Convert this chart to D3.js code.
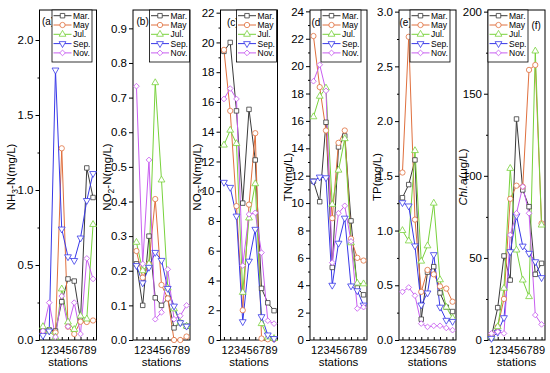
<!DOCTYPE html>
<html>
<head>
<meta charset="utf-8">
<script src="https://cdn.jsdelivr.net/npm/d3@7/dist/d3.min.js"></script>
<style>
  body { margin: 0; background: #fff; }
  svg { display: block; font-family: "Liberation Sans", Arial, sans-serif; }
</style>
</head>
<body>
<div id="chart"></div>
<script>
// =================================== DATA ===================================

const stations = [1, 2, 3, 4, 5, 6, 7, 8, 9]
const months = ["Mar.", "May", "Jul.", "Sep.", "Nov."]

// one row per month (Mar., May, Jul., Sep., Nov.), one value per station
const nh3 = [
  [0.06, 0.067, 0.06, 0.255, 0.407, 0.393, 0.133, 1.147, 0.95],
  [0.05, 0.06, 0.05, 1.278, 0.089, 0.04, 0.122, 0.12, 0.13],
  [0.089, 0.06, 0.02, 0.34, 0.12, 0.07, 0.16, 0.14, 0.77],
  [0.03, 0.06, 1.8, 0.74, 0.555, 0.53, 0.68, 0.93, 1.11],
  [0.06, 0.249, 0.02, 0.293, 0.09, 0.249, 0.04, 0.544, 0.407]
]
const no2 = [
  [0.22, 0.10, 0.30, 0.122, 0.10, 0.12, 0.035, 0.05, 0.04],
  [0.257, 0.18, 0.22, 0.407, 0.159, 0.12, 0.0, 0.0, 0.01],
  [0.282, 0.2, 0.22, 0.743, 0.462, 0.15, 0.09, 0.05, 0.04],
  [0.215, 0.165, 0.21, 0.253, 0.23, 0.149, 0.098, 0.05, 0.04],
  [0.733, 0.22, 0.52, 0.06, 0.08, 0.204, 0.06, 0.07, 0.10]
]
const no3 = [
  [19.4, 20.0, 15.4, 9.2, 15.5, 12.1, 3.47, 2.5, 1.97],
  [19.5, 15.4, 9.0, 2.0, 9.1, 13.9, 0.1, 0.05, 0.05],
  [13.1, 14.1, 13.2, 3.2, 8.2, 10.5, 1.1, 0.2, 0.1],
  [10.6, 10.26, 8.33, 1.23, 5.3, 7.44, 1.57, 0.34, 0.1],
  [16.2, 16.9, 16.2, 5.0, 8.45, 8.55, 5.87, 1.3, 1.1]
]
const tn = [
  [11.6, 10.1, 15.9, 5.3, 14.1, 14.9, 8.7, 3.8, 3.3],
  [22.2, 18.47, 15.3, 8.9, 14.4, 15.3, 7.4, 6.0, 5.8],
  [16.3, 17.8, 18.4, 9.9, 12.4, 14.7, 7.1, 4.15, 4.1],
  [11.6, 11.9, 11.85, 4.0, 7.07, 8.9, 3.95, 3.6, 2.55],
  [18.9, 20.1, 18.2, 5.65, 9.26, 9.8, 7.2, 2.3, 2.4]
]
const tp = [
  [1.3, 1.42, 1.645, 0.19, 0.62, 0.67, 0.43, 0.30, 0.26],
  [1.53, 2.77, 1.1, 0.44, 0.64, 0.6, 0.49, 0.47, 0.35],
  [1.0, 0.905, 1.73, 0.72, 0.86, 1.25, 0.55, 0.3, 0.2],
  [1.255, 1.225, 0.86, 0.32, 0.43, 0.78, 0.30, 0.18, 0.17],
  [0.44, 0.48, 0.405, 0.15, 0.12, 0.13, 0.13, 0.11, 0.09]
]
const chla = [
  [2, 19.7, 51.2, 36.5, 134.6, 91.4, 81.2, 40, 46.7],
  [3, 8, 25, 86, 94, 93.4, 164.5, 167.5, 71],
  [2, 8.1, 31.5, 104.5, 54.8, 36.5, 26.4, 176, 70],
  [1, 4.7, 13.6, 53.8, 75.7, 57.2, 52.8, 47.7, 38],
  [4, 5, 4, 64, 77.2, 93.4, 77.2, 15.2, 9.5]
]

// y tick labels of each panel
const ticksA = [0, 0.5, 1.0, 1.5, 2.0]
const ticksB = [0, 0.1, 0.2, 0.3, 0.4, 0.5, 0.6, 0.7, 0.8, 0.9]
const ticksC = [0, 2, 4, 6, 8, 10, 12, 14, 16, 18, 20, 22]
const ticksD = [0, 2, 4, 6, 8, 10, 12, 14, 16, 18, 20, 22, 24]
const ticksE = [0, 0.5, 1.0, 1.5, 2.0, 2.5, 3.0]
const ticksF = [0, 50, 100, 150, 200]

// =================================== SETTINGS ===================================

const width = 550, height = 373
const plotTop = 10, plotBottom = 340, pw = 57

const colors = ["#3a3a3a", "#e0703e", "#78d23c", "#3838e8", "#c85ef0"]
const shapes = ["square", "circle", "up", "down", "diamond"]

const panels = [
  { tag: "(a)", data: nh3, max: 2.2, ticks: ticksA, minor: 0.25, fmt: ".1f", left: 39.5,
    title: [["NH", ""], ["3", "sub"], ["-N(mg/L)", ""]], tx: 15, lgx: 52, tagx: 42, tagy: 25 },
  { tag: "(b)", data: no2, max: 0.953, ticks: ticksB, minor: null, fmt: ".1f", left: 133,
    title: [["NO", ""], ["2", "sub"], ["-N(mg/L)", ""]], tx: 111, lgx: 149.5, tagx: 136.5, tagy: 25 },
  { tag: "(c)", data: no3, max: 22.18, ticks: ticksC, minor: 1, fmt: "d", left: 220.5,
    title: [["NO", ""], ["3", "sub"], ["-N(mg/L)", ""]], tx: 201, lgx: 236.5, tagx: 227, tagy: 26 },
  { tag: "(d)", data: tn, max: 24.1, ticks: ticksD, minor: 1, fmt: "d", left: 310,
    title: [["TN(mg/L)", ""]], tx: 292, lgx: 321, tagx: 311.5, tagy: 25.5 },
  { tag: "(e)", data: tp, max: 3.015, ticks: ticksE, minor: 0.25, fmt: ".1f", left: 399,
    title: [["TP(mg/L)", ""]], tx: 381, lgx: 410, tagx: 399.5, tagy: 26 },
  { tag: "(f)", data: chla, max: 201, ticks: ticksF, minor: 25, fmt: "d", left: 488,
    title: [["Chl.a", "it"], ["(\u03bcg/L)", ""]], tx: 467, lgx: 488, tagx: 531.5, tagy: 29 }
]

const svg = d3.select("#chart").append("svg")
  .attr("width", width).attr("height", height)

function symbolPath(shape) {
  if (shape === "square") return d3.symbol(d3.symbolSquare, 20)()
  if (shape === "circle") return d3.symbol(d3.symbolCircle, 22)()
  if (shape === "up") return d3.symbol(d3.symbolTriangle, 20)()
  if (shape === "down") return d3.symbol(d3.symbolTriangle, 20)()
  return d3.symbol(d3.symbolSquare, 16)()
}
function symbolRotate(shape) {
  if (shape === "down") return 180
  if (shape === "diamond") return 45
  return 0
}

// =================================== PANELS ===================================

panels.forEach(function (p) {
  const x = d3.scaleLinear().domain([0.45, 9.55]).range([p.left, p.left + pw])
  const y = d3.scaleLinear().domain([0, p.max]).range([plotBottom, plotTop])
  const g = svg.append("g")

  // minor y ticks
  if (p.minor) {
    const minorVals = d3.range(0, p.max + 1e-9, p.minor).filter(v => !p.ticks.some(t => Math.abs(t - v) < 1e-9))
    g.append("g")
      .attr("transform", "translate(" + p.left + ",0)")
      .call(d3.axisLeft(y).tickValues(minorVals).tickSize(2).tickFormat(""))
      .call(a => a.select(".domain").remove())
  }

  // major y ticks
  g.append("g")
    .attr("transform", "translate(" + p.left + ",0)")
    .call(d3.axisLeft(y).tickValues(p.ticks).tickSize(4).tickPadding(2).tickFormat(d3.format(p.fmt)))
    .call(a => a.select(".domain").remove())
    .call(a => a.selectAll("text").attr("font-size", 11.5).attr("fill", "#000")
      .attr("font-family", '"Liberation Sans", Arial, sans-serif'))

  // x ticks (inside)
  g.append("g")
    .attr("transform", "translate(0," + plotBottom + ")")
    .call(d3.axisBottom(x).tickValues(stations).tickSize(-3).tickPadding(6).tickFormat(d3.format("d")))
    .call(a => a.select(".domain").remove())
    .call(a => a.selectAll("text").attr("font-size", 11).attr("fill", "#000")
      .attr("font-family", '"Liberation Sans", Arial, sans-serif'))

  // frame
  g.append("rect")
    .attr("x", p.left).attr("y", plotTop)
    .attr("width", pw).attr("height", plotBottom - plotTop)
    .attr("fill", "none").attr("stroke", "#000").attr("stroke-width", 1)

  // series
  const line = d3.line().x((d, i) => x(stations[i])).y(d => y(d))
  p.data.forEach(function (vals, k) {
    g.append("path")
      .attr("d", line(vals))
      .attr("fill", "none")
      .attr("stroke", colors[k])
      .attr("stroke-width", 1)
  })
  p.data.forEach(function (vals, k) {
    g.selectAll(null).data(vals).enter().append("path")
      .attr("d", symbolPath(shapes[k]))
      .attr("transform", (d, i) => "translate(" + x(stations[i]) + "," + y(d) + ") rotate(" + symbolRotate(shapes[k]) + ")")
      .attr("fill", "#fff")
      .attr("stroke", colors[k])
      .attr("stroke-width", 0.8)
  })

  // panel tag
  g.append("text")
    .attr("x", p.tagx).attr("y", p.tagy)
    .attr("font-size", 10)
    .text(p.tag)

  // legend
  const lg = g.append("g").attr("transform", "translate(" + p.lgx + "," + plotTop + ")")
  lg.append("rect")
    .attr("x", 0).attr("y", 0).attr("width", 40).attr("height", 52)
    .attr("fill", "#fff").attr("stroke", "#000").attr("stroke-width", 0.8)
  months.forEach(function (m, k) {
    const ly = 5.7 + k * 9.3
    lg.append("line")
      .attr("x1", 1.5).attr("x2", 19.5).attr("y1", ly).attr("y2", ly)
      .attr("stroke", colors[k]).attr("stroke-width", 1)
    lg.append("path")
      .attr("d", symbolPath(shapes[k]))
      .attr("transform", "translate(10.5," + ly + ") rotate(" + symbolRotate(shapes[k]) + ")")
      .attr("fill", "#fff").attr("stroke", colors[k]).attr("stroke-width", 0.8)
    lg.append("text")
      .attr("x", 21).attr("y", ly + 3)
      .attr("font-size", 8.5)
      .text(m)
  })

  // y title, subscripts written as separate tspans
  const yt = g.append("text")
    .attr("transform", "translate(" + p.tx + ",177) rotate(-90)")
    .attr("text-anchor", "middle")
    .attr("font-size", 11.5)
    .attr("fill", "#000")
  let shift = 0
  p.title.forEach(function (part) {
    const ts = yt.append("tspan").text(part[0])
    if (part[1] === "sub") {
      ts.attr("dy", 2.5).attr("font-size", 8.5)
      shift = -2.5
    } else {
      if (shift) ts.attr("dy", shift)
      shift = 0
      if (part[1] === "it") ts.attr("font-style", "italic")
    }
  })

  // x title
  g.append("text")
    .attr("x", p.left + pw / 2).attr("y", 366)
    .attr("text-anchor", "middle")
    .attr("font-size", 11.5)
    .text("stations")
})
</script>
</body>
</html>
